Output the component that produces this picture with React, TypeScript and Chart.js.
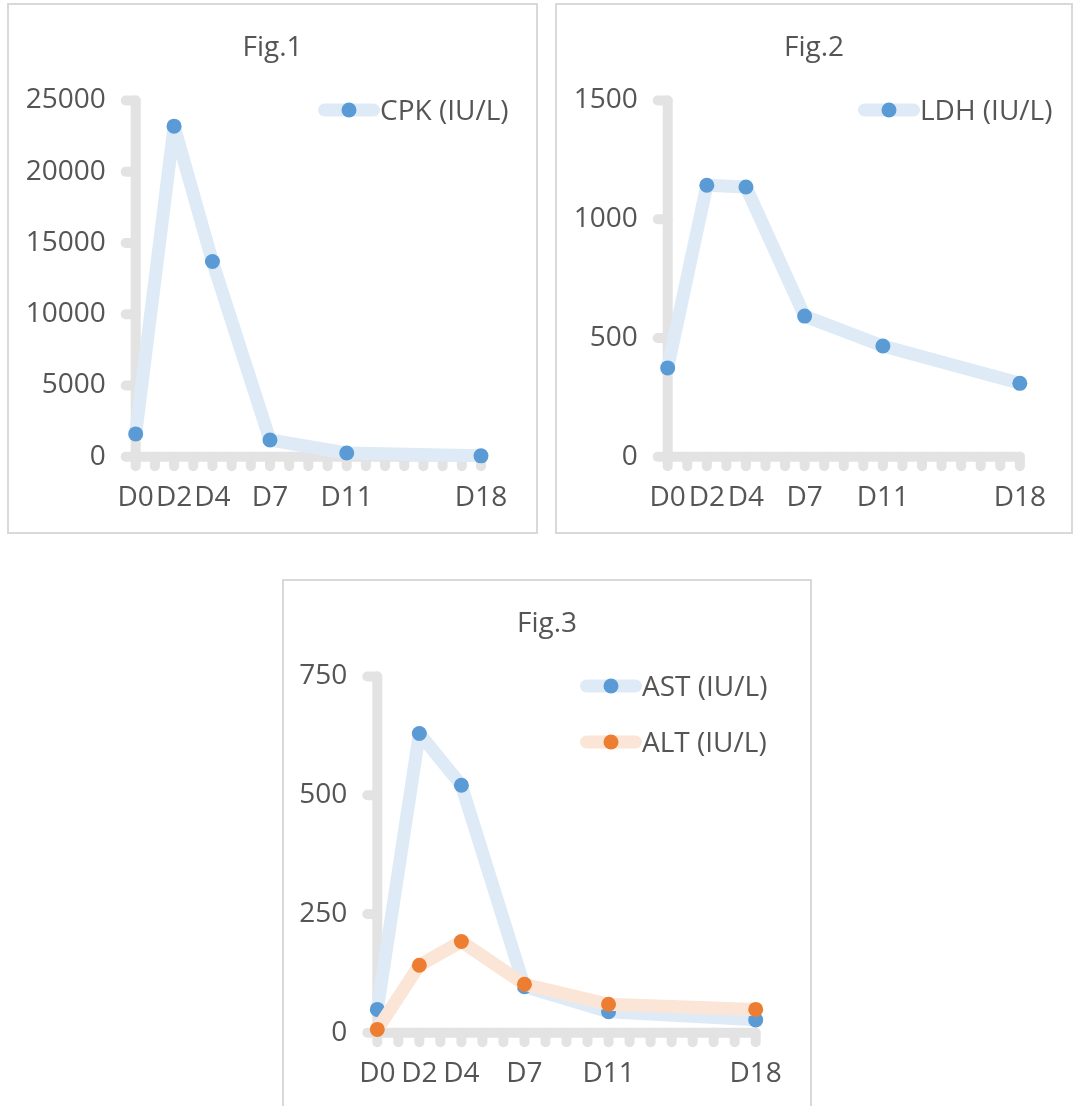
import React, { useEffect, useRef } from 'react';
import { Chart, registerables } from 'chart.js';

Chart.register(...registerables);

// ---------- data ----------
const days = [0, 2, 4, 7, 11, 18];
const dayLabels = ['D0', 'D2', 'D4', 'D7', 'D11', 'D18'];

const cpkValues = [1600, 23200, 13700, 1170, 260, 60];
const ldhValues = [374, 1143, 1136, 592, 466, 309];
const astValues = [49, 630, 521, 97, 44, 27];
const altValues = [7, 142, 192, 102, 60, 49];

const cpkTicks = [0, 5000, 10000, 15000, 20000, 25000];
const ldhTicks = [0, 500, 1000, 1500];
const liverTicks = [0, 250, 500, 750];

// ---------- styles ----------
const FONT = '"Open Sans", "Noto Sans", sans-serif';
const FONT_SIZE = 28;
const TEXT = '#555555';
const AXIS = '#e3e3e3';
const BLUE = '#5b9bd5';
const BLUE_LIGHT = '#deebf7';
const ORANGE = '#ed7d31';
const ORANGE_LIGHT = '#fbe5d6';

type Series = { label: string; values: number[]; line: string; point: string; order: number };

const excelAxes = {
  id: 'excelAxes',
  beforeDatasetsDraw(chart: any) {
    const { ctx, chartArea: a, scales } = chart;
    const x = scales.x;
    const y = scales.y;
    const seg = (x1: number, y1: number, x2: number, y2: number) => {
      ctx.beginPath();
      ctx.moveTo(x1, y1);
      ctx.lineTo(x2, y2);
      ctx.stroke();
    };
    ctx.save();
    ctx.strokeStyle = AXIS;
    ctx.lineCap = 'round';
    ctx.lineWidth = 10;
    for (const t of y.ticks) {
      const py = y.getPixelForValue(t.value);
      seg(a.left - 10, py, a.left, py);
    }
    for (let d = x.min; d <= x.max; d++) {
      const px = x.getPixelForValue(d);
      seg(px, a.bottom, px, a.bottom + 9.5);
    }
    seg(a.left, a.top, a.left, a.bottom);
    seg(a.left, a.bottom, a.right, a.bottom);
    ctx.restore();
  },
};

const excelTitle = {
  id: 'excelTitle',
  afterDraw(chart: any, _args: any, opts: any) {
    const { ctx } = chart;
    ctx.save();
    ctx.font = `${FONT_SIZE}px ${FONT}`;
    ctx.fillStyle = TEXT;
    ctx.textAlign = 'center';
    ctx.textBaseline = 'alphabetic';
    ctx.fillText(opts.text, chart.width / 2 + (opts.dx || 0), opts.baseline);
    ctx.restore();
  },
};

const excelLegend = {
  id: 'excelLegend',
  afterDraw(chart: any, _args: any, opts: any) {
    const { ctx } = chart;
    ctx.save();
    chart.data.datasets.forEach((ds: any, i: number) => {
      const lx = opts.x;
      const ly = opts.y + i * opts.rowGap;
      ctx.strokeStyle = ds.borderColor;
      ctx.lineWidth = 13;
      ctx.lineCap = 'round';
      ctx.beginPath();
      ctx.moveTo(lx + 6.5, ly);
      ctx.lineTo(lx + 62 - 6.5, ly);
      ctx.stroke();
      ctx.fillStyle = ds.pointBackgroundColor;
      ctx.beginPath();
      ctx.arc(lx + 31, ly, 7.5, 0, Math.PI * 2);
      ctx.fill();
      ctx.font = `${FONT_SIZE}px ${FONT}`;
      ctx.fillStyle = TEXT;
      ctx.textAlign = 'left';
      ctx.textBaseline = 'alphabetic';
      ctx.fillText(ds.label, lx + 62, ly + 10);
    });
    ctx.restore();
  },
};

type PanelProps = {
  left: number;
  top: number;
  width: number;
  height: number;
  title: string;
  series: Series[];
  yTicks: number[];
  yAxisWidth: number;
  padRight: number;
  legendX: number;
};

function Panel(p: PanelProps) {
  const ref = useRef<HTMLCanvasElement | null>(null);
  const cw = p.width - 4;
  const ch = p.height - 4;
  useEffect(() => {
    if (!ref.current) return;
    const chart = new Chart(ref.current, {
      type: 'line',
      data: {
        datasets: p.series.map((s) => ({
          label: s.label,
          data: days.map((d, i) => ({ x: d, y: s.values[i] })),
          borderColor: s.line,
          backgroundColor: s.point,
          pointBackgroundColor: s.point,
          pointBorderWidth: 0,
          pointRadius: 7.5,
          pointHoverRadius: 7.5,
          borderWidth: 13,
          borderJoinStyle: 'bevel',
          borderCapStyle: 'butt',
          tension: 0,
          clip: false,
          order: s.order,
        })),
      } as any,
      options: {
        animation: false,
        responsive: false,
        events: [],
        layout: { padding: { top: 95.5, right: p.padRight, bottom: 0, left: 0 } },
        plugins: {
          legend: { display: false },
          tooltip: { enabled: false },
          title: { display: false },
          excelTitle: { text: p.title, baseline: 50.5 },
          excelLegend: { x: p.legendX, y: 105, rowGap: 56 },
        } as any,
        scales: {
          x: {
            type: 'linear',
            min: 0,
            max: 18,
            grid: { display: false, drawTicks: false },
            border: { display: false },
            afterBuildTicks: (s: any) => {
              s.ticks = days.map((v) => ({ value: v }));
            },
            afterFit: (s: any) => {
              s.height = ch - 451.7;
            },
            ticks: {
              autoSkip: false,
              maxRotation: 0,
              padding: 25,
              color: TEXT,
              font: { family: FONT, size: FONT_SIZE },
              callback: (v: any) => dayLabels[days.indexOf(Number(v))] ?? '',
            },
          },
          y: {
            type: 'linear',
            min: 0,
            max: p.yTicks[p.yTicks.length - 1],
            grid: { display: false, drawTicks: false },
            border: { display: false },
            afterBuildTicks: (s: any) => {
              s.ticks = p.yTicks.map((v) => ({ value: v }));
            },
            afterFit: (s: any) => {
              s.width = p.yAxisWidth;
            },
            ticks: {
              padding: 30,
              color: TEXT,
              font: { family: FONT, size: FONT_SIZE },
              callback: (v: any) => String(v),
            },
          },
        },
      } as any,
      plugins: [excelAxes, excelTitle, excelLegend],
    });
    return () => chart.destroy();
  }, []);
  return (
    <div
      style={{
        position: 'absolute',
        left: p.left,
        top: p.top,
        width: p.width,
        height: p.height,
        border: '2px solid #d9d9d9',
        boxSizing: 'border-box',
        background: '#fff',
      }}
    >
      <canvas ref={ref} width={cw} height={ch} style={{ display: 'block', width: cw, height: ch }} />
    </div>
  );
}

export default function App() {
  useEffect(() => {
    document.body.style.margin = '0';
    document.documentElement.style.overflow = 'hidden';
  }, []);
  return (
    <div style={{ position: 'relative', width: 1075, height: 1106, overflow: 'hidden', background: '#fff' }}>
      <Panel
        left={7}
        top={3}
        width={531}
        height={531}
        title="Fig.1"
        series={[{ label: 'CPK (IU/L)', values: cpkValues, line: BLUE_LIGHT, point: BLUE, order: 0 }]}
        yTicks={cpkTicks}
        yAxisWidth={126.7}
        padRight={55}
        legendX={309}
      />
      <Panel
        left={555}
        top={3}
        width={518}
        height={531}
        title="Fig.2"
        series={[{ label: 'LDH (IU/L)', values: ldhValues, line: BLUE_LIGHT, point: BLUE, order: 0 }]}
        yTicks={ldhTicks}
        yAxisWidth={110.7}
        padRight={41}
        legendX={301}
      />
      <Panel
        left={282}
        top={579}
        width={530}
        height={531}
        title="Fig.3"
        series={[
          { label: 'AST (IU/L)', values: astValues, line: BLUE_LIGHT, point: BLUE, order: 1 },
          { label: 'ALT (IU/L)', values: altValues, line: ORANGE_LIGHT, point: ORANGE, order: 0 },
        ]}
        yTicks={liverTicks}
        yAxisWidth={93.3}
        padRight={54.3}
        legendX={296}
      />
    </div>
  );
}
